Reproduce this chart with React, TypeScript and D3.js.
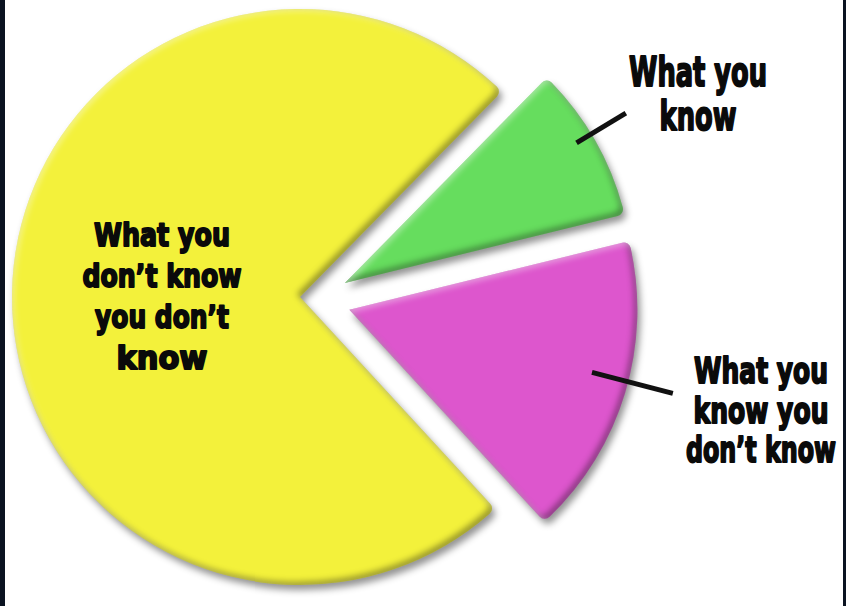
import { useMemo } from "react";
import * as d3 from "d3";

// Slices in drawing order, clockwise from the upper-right gap.
const categories = [
  "What you know",
  "What you know you don’t know",
  "What you don’t know you don’t know",
];
const shares = [8.8, 17, 74.2];
const sliceColors = ["#66dd5e", "#dd56cd", "#f3f13b"];
const labelLines = [
  ["What you", "know"],
  ["What you", "know you", "don’t know"],
  ["What you", "don’t know", "you don’t", "know"],
];

const W = 846;
const H = 606;
const DEG = Math.PI / 180;
const FONT = "'DejaVu Sans', 'Liberation Sans', Arial, sans-serif";

const polar = (angle: number, dist: number): [number, number] => [
  Math.sin(angle) * dist,
  -Math.cos(angle) * dist,
];

// natural text width, so each line can be squeezed to the condensed poster face
let ctx: CanvasRenderingContext2D | null = null;
function textWidth(t: string, size: number) {
  if (!ctx) ctx = document.createElement("canvas").getContext("2d");
  if (!ctx) return t.length * size * 0.6;
  ctx.font = `bold ${size}px ${FONT}`;
  return ctx.measureText(t).width;
}

export default function App() {
  const cx = 300;
  const cy = 297;
  const r = 288;

  // exploded slices: distance and direction (degrees, clockwise from 12 o'clock)
  const explode = [
    { d: 47, a: 72.7 },
    { d: 51, a: 104.5 },
    { d: 0, a: 0 },
  ];
  // leader ticks along the slice, as fractions of the radius
  const leaders = [
    { da: -1.5, r0: 0.94, r1: 1.14 },
    { da: -2.3, r0: 0.87, r1: 1.16 },
    null,
  ];
  // label blocks: centre x, first baseline, line height, font size, line widths
  const labelLayout = [
    { x: 698, y: 86, lh: 44, size: 40.5, widths: [138, 77] },
    { x: 761, y: 383, lh: 39.5, size: 35.5, widths: [134, 135, 150] },
    { x: 162, y: 246, lh: 41, size: 32, widths: [136, 159, 134, 91] },
  ];

  const arcs = useMemo(
    () =>
      d3
        .pie<number>()
        .sort(null)
        .value((d) => d)
        .startAngle(44.5 * DEG)
        .endAngle(404.5 * DEG)(shares),
    [],
  );

  const arc = d3
    .arc<d3.PieArcDatum<number>>()
    .innerRadius(0)
    .outerRadius(r)
    .cornerRadius(7);

  return (
    <div>
      <style>{"body{margin:0;background:#fff}"}</style>
      <svg width={W} height={H} viewBox={`0 0 ${W} ${H}`} style={{ display: "block" }}>
        <defs>
          <filter
            id="slice3d"
            x="-10%"
            y="-10%"
            width="125%"
            height="125%"
            colorInterpolationFilters="sRGB"
          >
            {/* drop shadow */}
            <feGaussianBlur in="SourceAlpha" stdDeviation="3.5" result="dsBlur" />
            <feOffset in="dsBlur" dx="3" dy="5" result="dsOff" />
            <feFlood floodColor="#000" floodOpacity="0.42" />
            <feComposite in2="dsOff" operator="in" result="drop" />
            {/* inner bevel */}
            <feComponentTransfer in="SourceAlpha" result="inv">
              <feFuncA type="table" tableValues="1 0" />
            </feComponentTransfer>
            <feGaussianBlur in="inv" stdDeviation="3" result="invBlur" />
            <feOffset in="invBlur" dx="-3" dy="-3" result="invDark" />
            <feFlood floodColor="#000" floodOpacity="0.38" />
            <feComposite in2="invDark" operator="in" />
            <feComposite in2="SourceAlpha" operator="in" result="innerDark" />
            <feOffset in="invBlur" dx="2" dy="2" result="invLight" />
            <feFlood floodColor="#fff" floodOpacity="0.45" />
            <feComposite in2="invLight" operator="in" />
            <feComposite in2="SourceAlpha" operator="in" result="innerLight" />
            <feMerge>
              <feMergeNode in="drop" />
              <feMergeNode in="SourceGraphic" />
              <feMergeNode in="innerDark" />
              <feMergeNode in="innerLight" />
            </feMerge>
          </filter>
        </defs>

        <rect width={W} height={H} fill="#fff" />
        <rect x={0} y={0} width={5} height={H} fill="#0b1321" />
        <rect x={843} y={0} width={3} height={H} fill="#0b1321" />

        {arcs.map((a, i) => {
          const [ox, oy] = polar(explode[i].a * DEG, explode[i].d);
          const mid = (a.startAngle + a.endAngle) / 2;
          const ld = leaders[i];
          let tick = null as null | { x1: number; y1: number; x2: number; y2: number };
          if (ld) {
            const ang = mid + ld.da * DEG;
            const [x1, y1] = polar(ang, r * ld.r0);
            const [x2, y2] = polar(ang, r * ld.r1);
            tick = { x1, y1, x2, y2 };
          }
          return (
            <g key={categories[i]} transform={`translate(${cx + ox},${cy + oy})`}>
              <path d={arc(a) ?? ""} fill={sliceColors[i]} filter="url(#slice3d)" />
              {tick && (
                <line {...tick} stroke="#111" strokeWidth={5} strokeLinecap="butt" />
              )}
            </g>
          );
        })}

        {labelLines.map((lines, i) => {
          const L = labelLayout[i];
          return (
            <g key={categories[i]}>
              {lines.map((line, j) => {
                const sx = L.widths[j] / textWidth(line, L.size);
                return (
                  <text
                    key={line + j}
                    transform={`translate(${L.x},${L.y + j * L.lh}) scale(${sx},1)`}
                    fontFamily={FONT}
                    fontWeight="bold"
                    fontSize={L.size}
                    fill="#0a0a0a"
                    stroke="#0a0a0a"
                    strokeWidth={2}
                    strokeLinejoin="round"
                    textAnchor="middle"
                  >
                    {line}
                  </text>
                );
              })}
            </g>
          );
        })}
      </svg>
    </div>
  );
}
